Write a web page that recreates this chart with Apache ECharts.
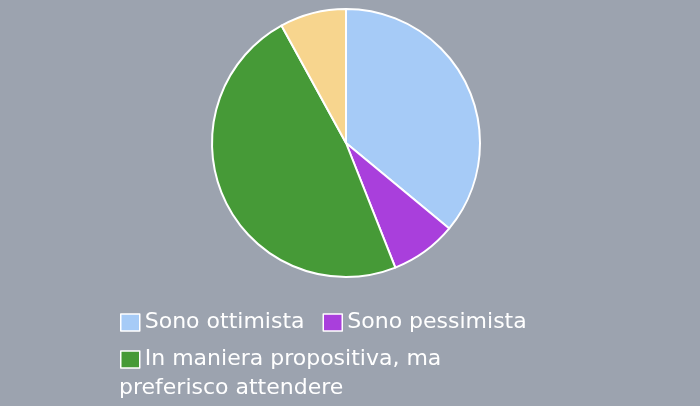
<!DOCTYPE html>
<html>
<head>
<meta charset="utf-8">
<script src="https://cdn.jsdelivr.net/npm/echarts@6/dist/echarts.min.js"></script>
<style>
  html, body { margin: 0; padding: 0; background: #9ca3af; }
  #chart { width: 700px; height: 406px; }
</style>
</head>
<body>
<div id="chart"></div>
<script>
var categories = ['Sono ottimista', 'Sono pessimista', 'In maniera propositiva, ma preferisco attendere', 'Non saprei'];
var values = [36, 8, 48, 8];
var colors = ['#a6cbf7', '#a93fdc', '#469a37', '#f7d58e'];

var myChart = echarts.init(document.getElementById('chart'));

var pieData = [];
for (var i = 0; i < categories.length; i++) {
    pieData.push({ name: categories[i], value: values[i] });
}

// the long label wraps under the icon, so split it in two
var longLabel = categories[2].split(', ma ');
var firstLine = longLabel[0] + ', ma';
var secondLine = longLabel[1];

var legendText = {
    color: '#ffffff',
    fontFamily: 'DejaVu Sans',
    fontSize: 22,
    lineHeight: 29
};

var option = {
    backgroundColor: '#9ca3af',
    color: colors,
    title: {
        text: secondLine,
        left: 119,
        top: 374,
        padding: 0,
        textStyle: {
            color: '#ffffff',
            fontFamily: 'DejaVu Sans',
            fontSize: 22,
            fontWeight: 'normal',
            lineHeight: 29
        }
    },
    legend: [{
        left: 120,
        top: 308,
        padding: 0,
        orient: 'horizontal',
        itemWidth: 19,
        itemHeight: 17,
        itemGap: 18,
        icon: 'rect',
        itemStyle: { borderColor: '#ffffff', borderWidth: 1.5 },
        textStyle: legendText,
        data: [categories[0], categories[1]]
    }, {
        left: 120,
        top: 345,
        height: 400,
        padding: 0,
        orient: 'vertical',
        itemWidth: 19,
        itemHeight: 17,
        itemGap: 52,
        icon: 'rect',
        itemStyle: { borderColor: '#ffffff', borderWidth: 1.5 },
        textStyle: legendText,
        formatter: function (name) {
            return name === categories[2] ? firstLine : name;
        },
        data: [categories[2], categories[3]]
    }],
    series: [{
        type: 'pie',
        center: [346, 143],
        radius: 134,
        startAngle: 90,
        clockwise: true,
        label: { show: false },
        labelLine: { show: false },
        itemStyle: { borderColor: '#ffffff', borderWidth: 2 },
        emphasis: { disabled: true },
        data: pieData
    }]
};

myChart.setOption(option);
</script>
</body>
</html>
